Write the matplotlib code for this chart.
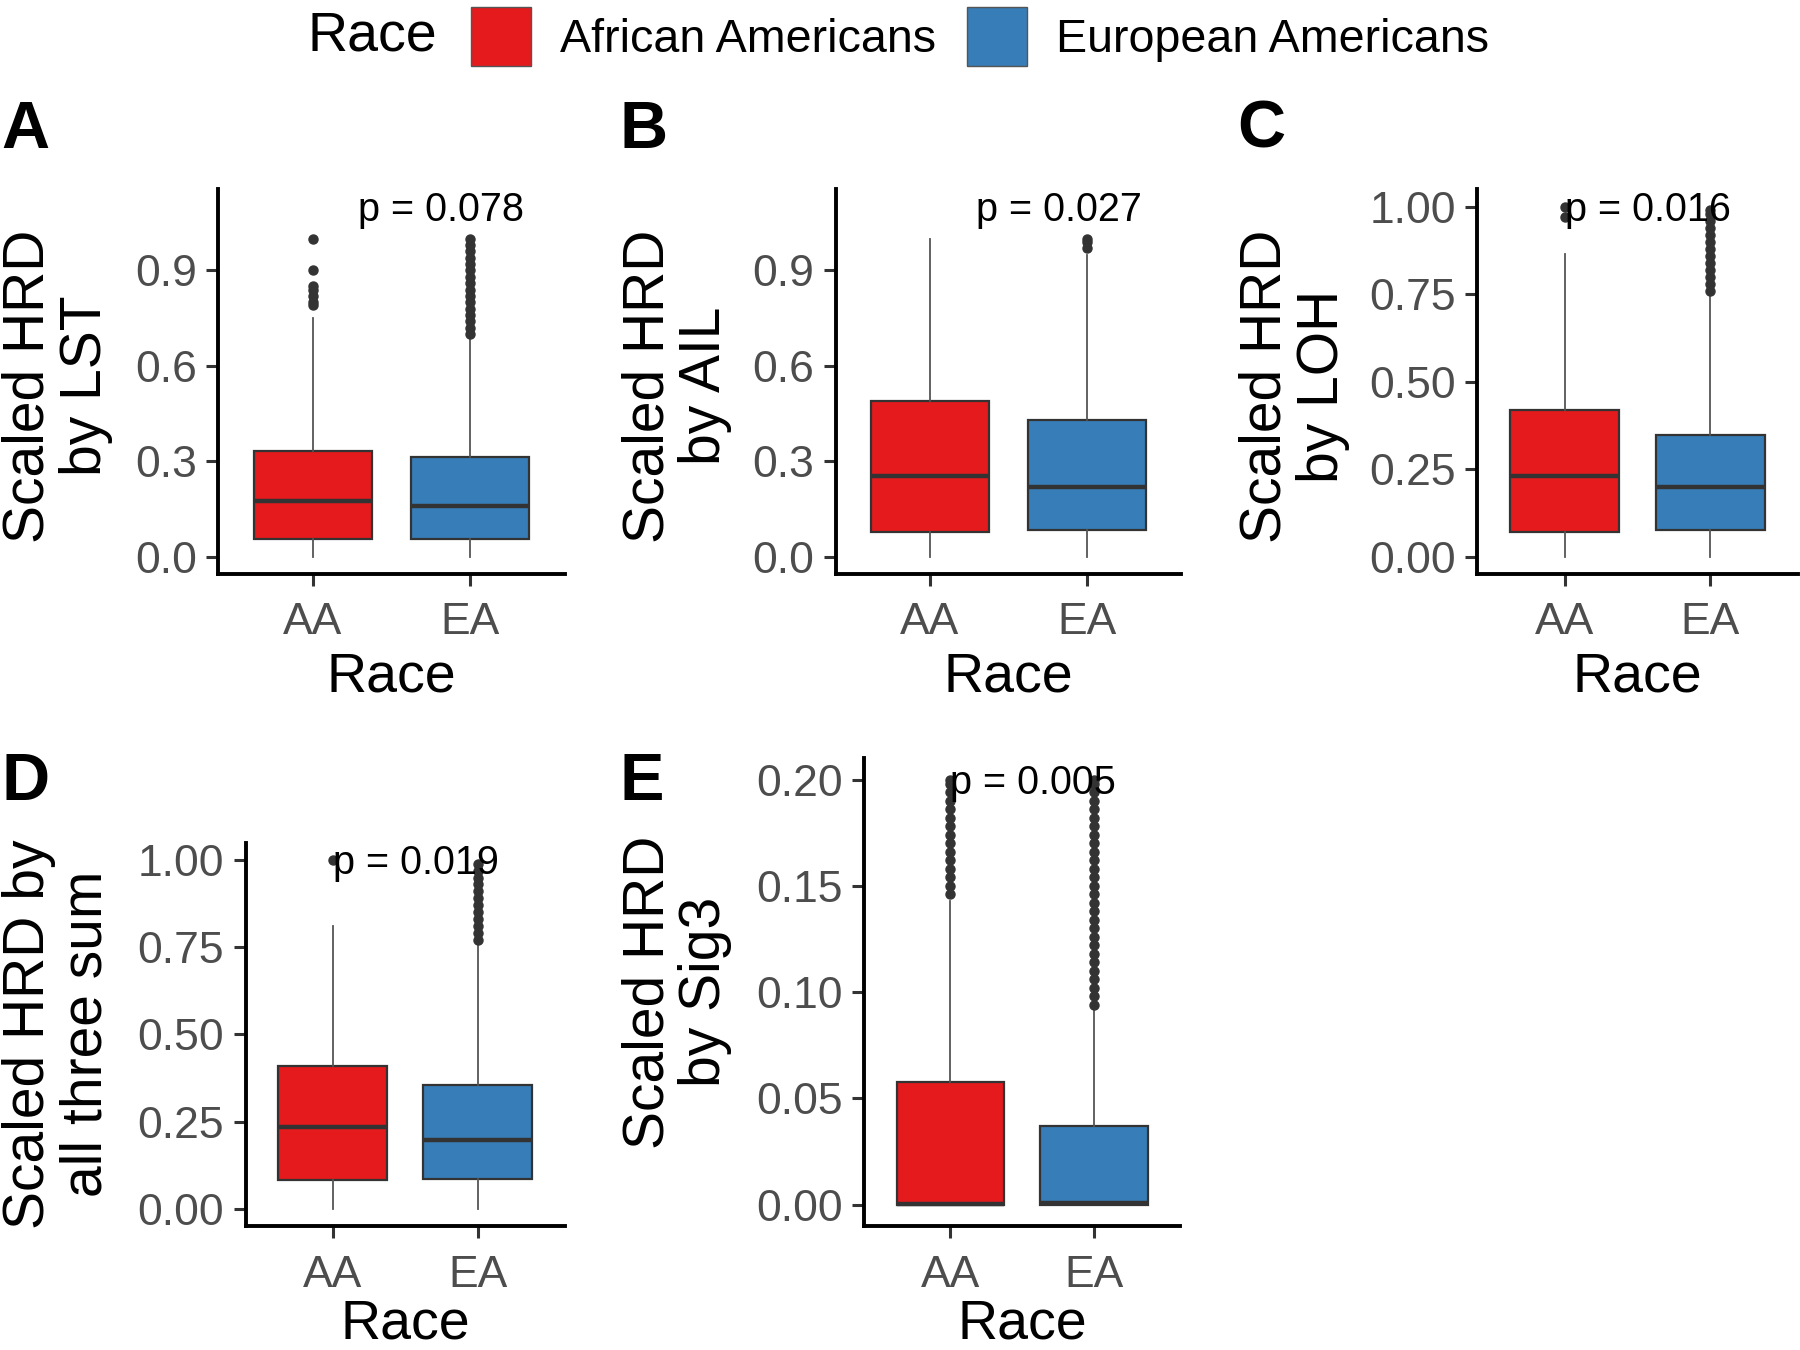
import matplotlib
matplotlib.use('Agg')
import matplotlib.pyplot as plt
from matplotlib.patches import Patch

plt.rcParams['font.family'] = ['Liberation Sans', 'DejaVu Sans']

races = ['AA', 'EA']
race_names = ['African Americans', 'European Americans']
race_colors = ['#E41A1C', '#377EB8']

# box statistics, order = AA, EA
# A: LST
lst_lo = [0.0, 0.0]
lst_q1 = [0.054, 0.054]
lst_med = [0.174, 0.159]
lst_q3 = [0.333, 0.314]
lst_hi = [0.750, 0.690]
lst_out_aa = [0.79, 0.80, 0.82, 0.84, 0.85, 0.90, 1.00]
lst_out_ea = [0.70, 0.72, 0.74, 0.76, 0.78, 0.80, 0.82, 0.84, 0.86, 0.88,
              0.90, 0.92, 0.94, 0.96, 0.98, 1.00]

# B: AIL
ail_lo = [0.0, 0.0]
ail_q1 = [0.076, 0.082]
ail_med = [0.253, 0.220]
ail_q3 = [0.488, 0.430]
ail_hi = [1.000, 0.950]
ail_out_aa = []
ail_out_ea = [0.97, 0.99, 1.00]

# C: LOH
loh_lo = [0.0, 0.0]
loh_q1 = [0.069, 0.075]
loh_med = [0.230, 0.198]
loh_q3 = [0.418, 0.348]
loh_hi = [0.865, 0.755]
loh_out_aa = [0.97, 1.00]
loh_out_ea = [0.76, 0.78, 0.80, 0.82, 0.84, 0.86, 0.88, 0.90, 0.92, 0.94,
              0.96, 0.98, 0.99]

# D: sum of all three
sum_lo = [0.0, 0.0]
sum_q1 = [0.082, 0.086]
sum_med = [0.234, 0.198]
sum_q3 = [0.408, 0.355]
sum_hi = [0.810, 0.760]
sum_out_aa = [1.00]
sum_out_ea = [0.77, 0.79, 0.81, 0.83, 0.85, 0.87, 0.89, 0.91, 0.93, 0.95,
              0.97, 0.99]

# E: Sig3
sig_lo = [0.0, 0.0]
sig_q1 = [0.0, 0.0]
sig_med = [0.0005, 0.001]
sig_q3 = [0.0577, 0.037]
sig_hi = [0.143, 0.092]
sig_out_aa = [0.146, 0.150, 0.154, 0.158, 0.162, 0.166, 0.170, 0.174, 0.178,
              0.182, 0.186, 0.190, 0.194, 0.198, 0.200]
sig_out_ea = [0.094, 0.098, 0.102, 0.106, 0.110, 0.114, 0.118, 0.122, 0.126,
              0.130, 0.134, 0.138, 0.142, 0.146, 0.150, 0.154, 0.158, 0.162,
              0.166, 0.170, 0.174, 0.178, 0.182, 0.186, 0.190, 0.194, 0.198,
              0.200]

panels = [
    ('A', 'Scaled HRD\nby LST', lst_lo, lst_q1, lst_med, lst_q3, lst_hi,
     [lst_out_aa, lst_out_ea], 'p = 0.078', 1.29, 1.1,
     [0.0, 0.3, 0.6, 0.9], ['0.0', '0.3', '0.6', '0.9'], (-0.055, 1.155)),
    ('B', 'Scaled HRD\nby AIL', ail_lo, ail_q1, ail_med, ail_q3, ail_hi,
     [ail_out_aa, ail_out_ea], 'p = 0.027', 1.29, 1.1,
     [0.0, 0.3, 0.6, 0.9], ['0.0', '0.3', '0.6', '0.9'], (-0.055, 1.155)),
    ('C', 'Scaled HRD\nby LOH', loh_lo, loh_q1, loh_med, loh_q3, loh_hi,
     [loh_out_aa, loh_out_ea], 'p = 0.016', 1.0, 1.0,
     [0.0, 0.25, 0.5, 0.75, 1.0], ['0.00', '0.25', '0.50', '0.75', '1.00'], (-0.05, 1.05)),
    ('D', 'Scaled HRD by\nall three sum', sum_lo, sum_q1, sum_med, sum_q3, sum_hi,
     [sum_out_aa, sum_out_ea], 'p = 0.019', 1.0, 1.0,
     [0.0, 0.25, 0.5, 0.75, 1.0], ['0.00', '0.25', '0.50', '0.75', '1.00'], (-0.05, 1.05)),
    ('E', 'Scaled HRD\nby Sig3', sig_lo, sig_q1, sig_med, sig_q3, sig_hi,
     [sig_out_aa, sig_out_ea], 'p = 0.005', 1.0, 0.2,
     [0.0, 0.05, 0.1, 0.15, 0.2], ['0.00', '0.05', '0.10', '0.15', '0.20'], (-0.01, 0.21)),
]

# axes rectangles, letter positions and y-label centres (figure fractions)
axes_pos = [
    [0.1212, 0.5748, 0.1926, 0.2849],
    [0.4643, 0.5748, 0.1920, 0.2849],
    [0.8208, 0.5748, 0.1779, 0.2849],
    [0.1365, 0.0918, 0.1773, 0.2840],
    [0.4802, 0.0918, 0.1754, 0.3465],
]
letter_pos = [(0.001, 0.903), (0.3444, 0.903), (0.6875, 0.903),
              (0.001, 0.420), (0.3444, 0.420)]
ylab_pos = [(0.032, 0.714), (0.376, 0.714), (0.719, 0.714),
            (0.032, 0.234), (0.376, 0.265)]
xlab_pad = [6, 6, 6, 2, 2]

fig = plt.figure(figsize=(18, 13.5), dpi=100)

for i, (letter, ylab, lo, q1, med, q3, hi, outs, ptxt, px, py, yt, ytl, ylim) in enumerate(panels):
    ax = fig.add_axes(axes_pos[i])
    stats = []
    for j in range(2):
        stats.append(dict(med=med[j], q1=q1[j], q3=q3[j], whislo=lo[j],
                          whishi=hi[j], fliers=outs[j]))
    bp = ax.bxp(stats, positions=[1, 2], widths=0.75, patch_artist=True,
                showcaps=False,
                boxprops=dict(edgecolor='#333333', linewidth=1.6),
                medianprops=dict(color='#333333', linewidth=3.2),
                whiskerprops=dict(color='#555555', linewidth=1.3),
                flierprops=dict(marker='o', markersize=6.5, markerfacecolor='#333333',
                                markeredgecolor='#333333', linestyle='none'))
    for patch, c in zip(bp['boxes'], race_colors):
        patch.set_facecolor(c)
    for ln in bp['medians']:
        ln.set_solid_capstyle('butt')

    ax.set_xlim(0.4, 2.6)
    ax.set_ylim(*ylim)
    ax.set_xticks([1, 2])
    ax.set_xticklabels(races)
    ax.set_yticks(yt)
    ax.set_yticklabels(ytl)
    for s in ['top', 'right']:
        ax.spines[s].set_visible(False)
    for s in ['left', 'bottom']:
        ax.spines[s].set_linewidth(2.8)
        ax.spines[s].set_color('black')
    ax.tick_params(axis='both', length=8.5, width=2.2, color='#333333',
                   labelsize=32, labelcolor='#4D4D4D')
    ax.tick_params(axis='y', pad=7)
    ax.tick_params(axis='x', pad=12)
    ax.set_xlabel('Race', fontsize=40, color='black', labelpad=xlab_pad[i])

    ax.annotate(ptxt, xy=(px, py), xytext=(0, -0.358 * 28.5), textcoords='offset points',
                fontsize=28.5, color='black', ha='left', va='baseline')

    fig.text(ylab_pos[i][0], ylab_pos[i][1], ylab, rotation=90, ha='center', va='center',
             fontsize=41, linespacing=1.08, multialignment='center')
    fig.text(letter_pos[i][0], letter_pos[i][1], letter, fontsize=48, fontweight='bold',
             ha='left', va='center')

handles = [Patch(facecolor=c, edgecolor='#555555', linewidth=1.0) for c in race_colors]
fig.legend(handles, race_names, loc='center left', bbox_to_anchor=(0.2615, 0.9728),
           ncol=2, frameon=False, fontsize=33.6, handlelength=1.3, handleheight=1.55,
           handletextpad=0.62, columnspacing=0.65, borderpad=0, borderaxespad=0)
fig.text(0.171, 0.9728, 'Race', fontsize=40, ha='left', va='center')

fig.savefig('out.png', dpi=100)
